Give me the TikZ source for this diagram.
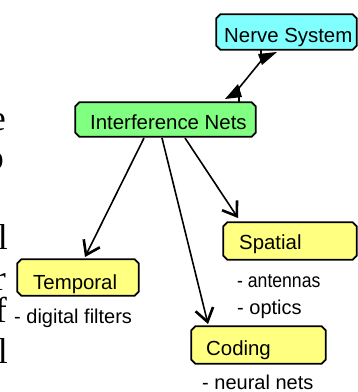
\documentclass[tikz,border=0pt]{standalone}
\usepackage{fontspec}
\setmainfont{Liberation Sans}
\newfontfamily\serifcut{Liberation Serif}
\usetikzlibrary{arrows.meta}
\definecolor{cyanfill}{HTML}{80FFFF}
\definecolor{greenfill}{HTML}{80FF80}
\definecolor{yellowfill}{HTML}{FFFF80}
\tikzset{
  box/.style={rectangle, inner sep=0pt},
  chamf/.style={draw=black, line width=1.8pt, line join=miter},
  boxtext/.style={anchor=base west, inner sep=0pt, font=\fontsize{20.4}{24}\selectfont},
  note/.style={anchor=base west, inner sep=0pt, font=\fontsize{20}{24}\selectfont},
  cut/.style={anchor=base east, inner sep=0pt, font=\serifcut\fontsize{36}{40}\selectfont},
  link/.style={line width=1.6pt},
  arr/.style={link, -{Straight Barb[length=13pt,width=18pt,line width=2.6pt]}},
}
\newcommand\chambox[2]{%
  \filldraw[chamf, fill=#2]
    ([xshift=4pt]#1.north west) -- ([xshift=-4pt]#1.north east)
    -- ([yshift=-4pt]#1.north east) -- ([yshift=4pt]#1.south east)
    -- ([xshift=-4pt]#1.south east) -- ([xshift=4pt]#1.south west)
    -- ([yshift=4pt]#1.south west) -- ([yshift=-4pt]#1.north west) -- cycle;}
\begin{document}
\begin{tikzpicture}[x=1pt,y=-1pt]
\useasboundingbox (0,0) rectangle (358,392);

% cut-off serif text at the left edge
\node[cut] (c1) at (6,130) {e};
\node[cut] (c2) at (4,169) {o};
\node[cut] (c3) at (2,208) {.};
\node[cut] (c4) at (8,249) {l};
\node[cut] (c5) at (6,290) {r};
\node[cut] (c6) at (7,322) {f};
\node[cut] (c7) at (8,363) {l};

% boxes
\node[box, minimum width=140pt, minimum height=35pt] (nerve) at (286.5,32) {};
\node[box, minimum width=180pt, minimum height=34pt] (inter) at (165.5,119.5) {};
\node[box, minimum width=133pt, minimum height=37pt] (spatial) at (290,241) {};
\node[box, minimum width=121pt, minimum height=36pt] (temporal) at (78,277.5) {};
\node[box, minimum width=134pt, minimum height=37pt] (coding) at (258.5,345) {};
\chambox{nerve}{cyanfill}
\chambox{inter}{greenfill}
\chambox{spatial}{yellowfill}
\chambox{temporal}{yellowfill}
\chambox{coding}{yellowfill}

\node[boxtext] (nerveT) at (224,42) {Nerve System};
\node[boxtext] (interT) at (90,129) {Interference Nets};
\node[boxtext] (spatialT) at (239,249) {Spatial};
\node[boxtext] (temporalT) at (33,289) {Temporal};
\node[boxtext] (codingT) at (206,355) {Coding};

% notes
\node[note] (n1) at (237,287) {\scalebox{0.88}[1]{- antennas}};
\node[note] (n2) at (237,314) {- optics};
\node[note] (n3) at (14,323) {- digital filters};
\node[note] (n4) at (202,389) {- neural nets};

% connector nerve -- interference
\coordinate (a0) at (261,50);
\coordinate (a1) at (261,61);
\coordinate (a2) at (239,88);
\coordinate (a3) at (239,102);
\draw[link] (a0) -- (a1) -- (a2) -- (a3);
\fill (258,54) -- (277,52) -- (262,65) -- cycle;
\fill (225,99) -- (238,84) -- (242,97) -- cycle;

% arrows
\coordinate (s1) at (144,138);
\coordinate (s2) at (162,138);
\coordinate (s3) at (185,138);
\coordinate (t1) at (85,257);
\coordinate (t2) at (208,324);
\coordinate (t3) at (238,218);
\draw[arr] (s1) -- (t1);
\draw[arr] (s2) -- (t2);
\draw[arr] (s3) -- (t3);
\end{tikzpicture}
\end{document}
